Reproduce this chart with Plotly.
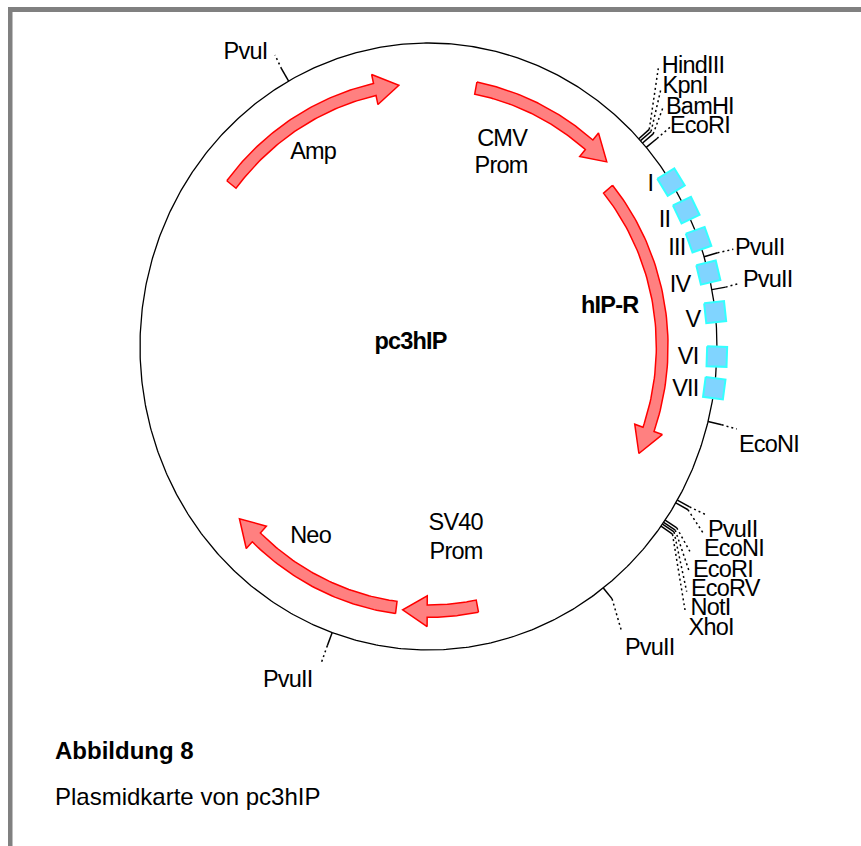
import numpy as np
import plotly.graph_objects as go

# ---- plasmid features (angles in degrees, clockwise from the top of the ring) ----
site_names = ["PvuI", "HindIII", "KpnI", "BamHI", "EcoRI", "PvuII", "PvuII", "EcoNI",
              "PvuII", "EcoNI", "EcoRI", "EcoRV", "NotI", "XhoI", "PvuII", "PvuII"]
site_angles = [331.0, 46.8, 47.3, 47.9, 49.0, 72.8, 79.2, 104.3,
               120.4, 121.0, 124.9, 125.4, 125.8, 126.3, 142.7, 199.5]

exon_names = ["I", "II", "III", "IV", "V", "VI", "VII"]
exon_angles = [57.2, 63.3, 69.4, 75.9, 83.5, 91.9, 97.9]

gene_names = ["Amp", "CMV", "hIP-R", "SV40", "Neo"]
gene_start = [308.0, 10.9, 50.2, 168.8, 187.4]
gene_head = [347.6, 39.95, 109.7, 180.3, 223.5]
gene_tip = [353.2, 45.45, 115.8, 185.9, 229.1]
gene_radius = [0.867, 0.867, 0.81, 0.872, 0.867]

# ---- layout of the drawing, in page pixels ----
CX, CY, RX, RY = 428.5, 346.5, 288.5, 303.5
TICK = 14
leader_ends = [(275, 55), (658.3, 68.3), (660.7, 90), (662.7, 108.3), (670, 127.3),
               (733.3, 249.3), (740, 283.3), (736.7, 429),
               (705, 514.3), (703.3, 533.3), (690, 551.7), (689.3, 571.7),
               (686.7, 591.7), (685, 610), (621.7, 631.7), (321.7, 661.7)]
labels = [("PvuI", 245, 51), ("HindIII", 693, 65), ("KpnI", 685, 85), ("BamHI", 699.5, 105.7),
          ("EcoRI", 700, 125), ("I", 650, 183), ("II", 664, 219), ("III", 676.5, 247),
          ("PvuII", 760, 246.7), ("IV", 680, 284), ("PvuII", 767.5, 279.3), ("V", 692.5, 319),
          ("VI", 688, 355.7), ("VII", 685.5, 388), ("EcoNI", 769, 444), ("PvuII", 732.5, 529),
          ("EcoNI", 733.5, 548.3), ("EcoRI", 722.5, 569), ("EcoRV", 725.5, 588.3), ("NotI", 710, 607.3),
          ("XhoI", 711, 627.3), ("PvuII", 649.5, 646.7), ("PvuII", 287.5, 679), ("Amp", 312.5, 150.7),
          ("CMV", 502.5, 137.7), ("Prom", 501, 165), ("SV40", 455.5, 522.3), ("Prom", 455.5, 551),
          ("Neo", 310.5, 535)]
bold_labels = [("hIP-R", 609.5, 305), ("pc3hIP", 410, 341)]
FONT = "Liberation Sans, Arial, sans-serif"
LABEL_SIZE = 23.5


def ring(theta, r=1.0):
    t = np.radians(theta)
    return CX + r * RX * np.sin(t), CY - r * RY * np.cos(t)


def normal(theta):
    t = np.radians(theta)
    nx, ny = RY * np.sin(t), -RX * np.cos(t)
    n = np.hypot(nx, ny)
    return nx / n, ny / n


fig = go.Figure()

# ring
th = np.linspace(0, 360, 721)
x, y = ring(th)
fig.add_trace(go.Scatter(x=x, y=y, mode="lines", line=dict(color="black", width=1.3)))

# site ticks and dotted leaders
tx, ty, lx, ly = [], [], [], []
for a, end in zip(site_angles, leader_ends):
    x0, y0 = ring(a)
    nx, ny = normal(a)
    x1, y1 = x0 + TICK * nx, y0 + TICK * ny
    tx += [x0, x1, None]
    ty += [y0, y1, None]
    lx += [x1, end[0], None]
    ly += [y1, end[1], None]
fig.add_trace(go.Scatter(x=tx, y=ty, mode="lines", line=dict(color="black", width=1.5)))
fig.add_trace(go.Scatter(x=lx, y=ly, mode="lines", line=dict(color="black", width=1.5, dash="2px,3px")))

# exons (transmembrane blocks)
for a in exon_angles:
    cx, cy = ring(a)
    nx, ny = normal(a)
    ux, uy = -ny, nx
    hw, hd = 10, 10
    px = [cx + s * hd * nx + q * hw * ux for s, q in [(-1, -1), (1, -1), (1, 1), (-1, 1), (-1, -1)]]
    py = [cy + s * hd * ny + q * hw * uy for s, q in [(-1, -1), (1, -1), (1, 1), (-1, 1), (-1, -1)]]
    fig.add_trace(go.Scatter(x=px, y=py, mode="lines", fill="toself", fillcolor="#80D4FF",
                             line=dict(color="#33FFFF", width=2)))

# gene arrows
SHAFT, HEAD = 6, 15
for start, head, tip, r in zip(gene_start, gene_head, gene_tip, gene_radius):
    if head < start:
        head += 360
    if tip < start:
        tip += 360
    arc = np.linspace(start, head, 60)
    dr = SHAFT / 296
    xo, yo = ring(arc, r + dr)
    xi, yi = ring(arc, r - dr)
    hx0, hy0 = ring(head, r + HEAD / 296)
    hx1, hy1 = ring(head, r - HEAD / 296)
    tipx, tipy = ring(tip, r)
    px = list(xo) + [hx0, tipx, hx1] + list(xi[::-1]) + [xo[0]]
    py = list(yo) + [hy0, tipy, hy1] + list(yi[::-1]) + [yo[0]]
    fig.add_trace(go.Scatter(x=px, y=py, mode="lines", fill="toself", fillcolor="#FF8080",
                             line=dict(color="#FF0000", width=1.5)))

anns = []
for text, xx, yy in labels:
    anns.append(dict(x=xx, y=yy, text=text, showarrow=False, xanchor="center", yanchor="middle",
                     font=dict(family=FONT, size=LABEL_SIZE, color="black")))
for text, xx, yy in bold_labels:
    anns.append(dict(x=xx, y=yy, text="<b>%s</b>" % text, showarrow=False, xanchor="center",
                     yanchor="middle", font=dict(family=FONT, size=LABEL_SIZE, color="black")))
n_tight = len(anns)
anns.append(dict(x=53, y=750.7, text="<b>Abbildung 8</b>", showarrow=False, xanchor="left",
                 yanchor="middle", font=dict(family=FONT, size=24, color="black")))
anns.append(dict(x=53, y=796.7, text="Plasmidkarte von pc3hIP", showarrow=False, xanchor="left",
                 yanchor="middle", font=dict(family=FONT, size=24, color="black")))

shapes = [
    dict(type="rect", xref="x", yref="y", x0=8, x1=12.5, y0=7, y1=846,
         fillcolor="#808080", line=dict(width=0)),
    dict(type="rect", xref="x", yref="y", x0=8, x1=861, y0=7, y1=12,
         fillcolor="#808080", line=dict(width=0)),
]

fig.update_layout(
    width=861, height=846, margin=dict(l=0, r=0, t=0, b=0),
    paper_bgcolor="white", plot_bgcolor="white", showlegend=False,
    xaxis=dict(range=[0, 861], visible=False, fixedrange=True),
    yaxis=dict(range=[846, 0], visible=False, fixedrange=True),
    annotations=anns, shapes=shapes, hovermode=False,
)
# the reference sets its labels with tight tracking
post = ("document.body.style.margin='0';document.body.style.overflow='hidden';"
        "var ts=document.querySelectorAll('.annotation-text');"
        "for(var i=0;i<%d&&i<ts.length;i++){ts[i].style.letterSpacing='-0.8px';}" % n_tight)
fig.write_html("out.html", config=dict(displayModeBar=False), post_script=post)
